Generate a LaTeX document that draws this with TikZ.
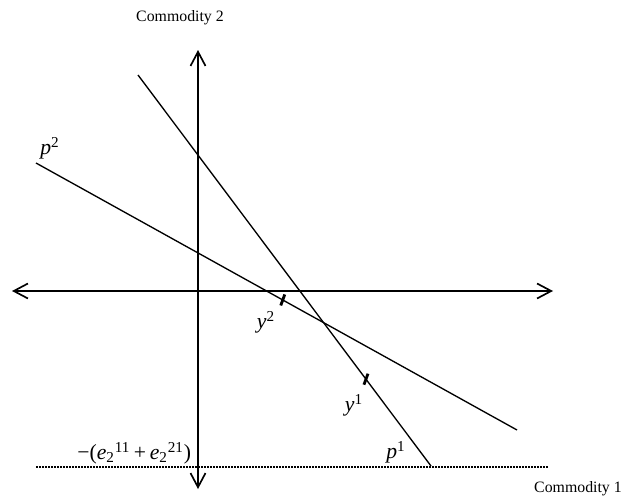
\documentclass[tikz,border=0pt]{standalone}
\usepackage{fontspec}
\setmainfont{Liberation Serif}
\usetikzlibrary{arrows.meta,calc}
\tikzset{
  axis/.style    ={draw=black, line width=1pt,
                   {Straight Barb[length=8.5pt,width=9pt]}-{Straight Barb[length=8.5pt,width=9pt]}},
  budget/.style  ={draw=black, line width=0.8pt},
  tickmark/.style={draw=black, line width=1.7pt},
  floor/.style   ={draw=black, line width=0.9pt, dash pattern=on 0.9pt off 0.9pt},
  axlbl/.style   ={font=\fontsize{9.5}{11}\selectfont, inner sep=1pt},
  var/.style     ={font=\fontsize{13}{15}\selectfont\itshape, inner sep=1pt},
}
\newcommand{\up}[1]{{\upshape #1}}

\begin{document}
\begin{tikzpicture}[x=0.6pt,y=-0.6pt]
  \useasboundingbox (0,0) rectangle (625,501);
  % axes
  \coordinate (xw) at (12,291);
  \coordinate (xe) at (553,291);
  \coordinate (yn) at (198,50);
  \coordinate (ys) at (198,489);
  \draw[axis] (xw) -- (xe);
  \draw[axis] (ys) -- (yn);
  % price lines
  \coordinate (p1n) at (138,75);
  \coordinate (p1s) at (431,466);
  \coordinate (p2w) at (36,163);
  \coordinate (p2e) at (517,430);
  \draw[budget] (p1n) -- (p1s);
  \draw[budget] (p2w) -- (p2e);
  % endowment floor
  \coordinate (fw) at (36,467);
  \coordinate (fe) at (548,467);
  \draw[floor] (fw) -- (fe);
  % production points
  \coordinate (y2) at ($(p2w)!0.513!(p2e)$);
  \coordinate (y1) at ($(p1n)!0.778!(p1s)$);
  \draw[tickmark] ($(y2)+(-2,5.5)$) -- ($(y2)+(2,-5.5)$);
  \draw[tickmark] ($(y1)+(-2,5.5)$) -- ($(y1)+(2,-5.5)$);
  % labels
  \node[axlbl] (c2) at (180,18) {Commodity 2};
  \node[axlbl] (c1) at (578,489) {Commodity 1};
  \node[var] (p2lbl) at (50,148) {p\textsuperscript{\up{2}}};
  \node[var] (p1lbl) at (396,452) {p\textsuperscript{\up{1}}};
  \node[var] (y2lbl) at (266,322) {y\textsuperscript{\up{2}}};
  \node[var] (y1lbl) at (354,405) {y\textsuperscript{\up{1}}};
  \node[var,anchor=east] (elbl) at (193,453)
    {\up{−(}e\textsubscript{\up{2}}\textsuperscript{\up{11}}\up{\,+\,}e\textsubscript{\up{2}}\textsuperscript{\up{21}}\up{)}};
\end{tikzpicture}
\end{document}
